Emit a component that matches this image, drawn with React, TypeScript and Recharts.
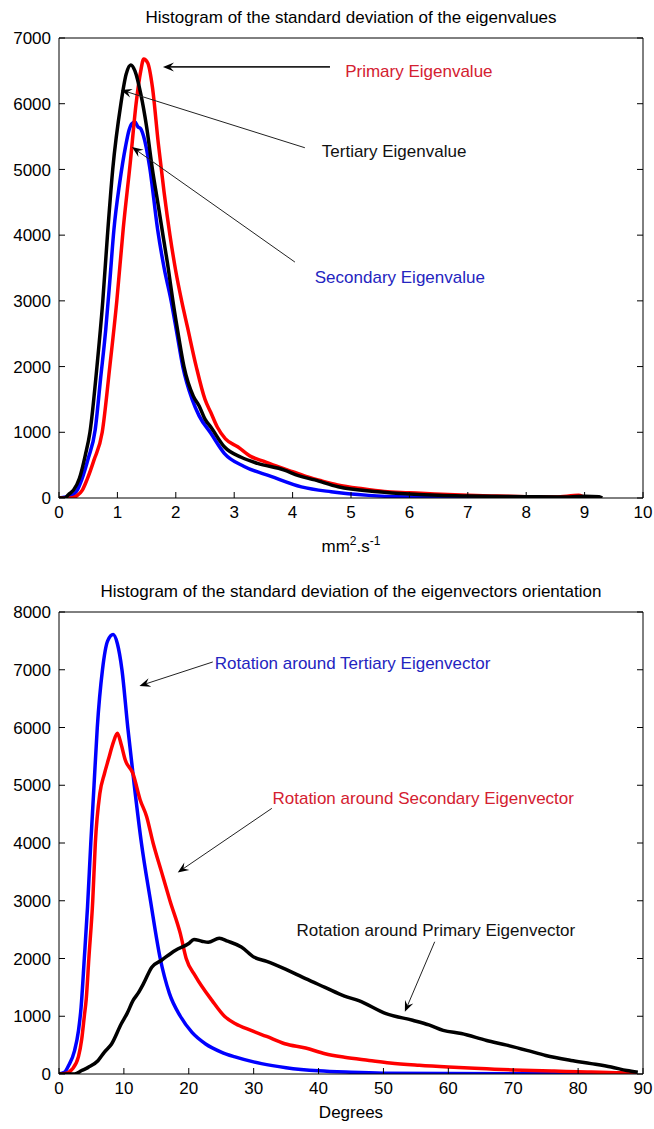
import React from 'react';
import { LineChart, Line, XAxis, YAxis, ReferenceLine, ReferenceDot } from 'recharts';

const FONT = '"Liberation Sans", Arial, Helvetica, sans-serif';

// ---- top chart: std of the eigenvalues (mm^2.s^-1) ----
const eigTicksX = [0, 1, 2, 3, 4, 5, 6, 7, 8, 9, 10];
const eigTicksY = [0, 1000, 2000, 3000, 4000, 5000, 6000, 7000];

const primaryEigX = [0, 0.2, 0.3, 0.4, 0.48, 0.6, 0.74, 0.87, 0.99, 1.1, 1.22, 1.32, 1.4, 1.45, 1.52, 1.6, 1.7, 1.8, 1.9, 2.0, 2.1, 2.2, 2.35, 2.5, 2.6, 2.71, 2.85, 3.06, 3.29, 3.5, 3.8, 4.0, 4.26, 4.5, 4.77, 5.2, 5.57, 6.0, 6.43, 7.0, 7.5, 8.0, 8.5, 8.9, 9.0, 9.1];
const primaryEigY = [0, 0, 30, 120, 280, 580, 1000, 2000, 3000, 4100, 5100, 6000, 6500, 6680, 6620, 6250, 5400, 4650, 4000, 3450, 3000, 2600, 2000, 1500, 1300, 1080, 900, 780, 630, 560, 460, 400, 320, 260, 200, 140, 100, 80, 60, 40, 30, 20, 15, 40, 10, 0];

const tertiaryEigX = [0, 0.1, 0.16, 0.25, 0.35, 0.45, 0.53, 0.65, 0.75, 0.83, 0.92, 1.06, 1.15, 1.23, 1.3, 1.4, 1.5, 1.6, 1.7, 1.78, 1.87, 1.95, 2.05, 2.14, 2.3, 2.4, 2.5, 2.6, 2.83, 3.12, 3.4, 3.86, 4.1, 4.38, 4.78, 5.46, 6.0, 6.5, 7.0, 8.0, 8.6, 9.0, 9.25, 9.3];
const tertiaryEigY = [0, 0, 50, 120, 300, 650, 1000, 2000, 3000, 4000, 5000, 6000, 6450, 6590, 6500, 6150, 5650, 5000, 4450, 4000, 3500, 3000, 2450, 2000, 1550, 1400, 1200, 1080, 780, 620, 527, 425, 340, 275, 170, 95, 60, 40, 30, 20, 15, 25, 20, 0];

const secondaryEigX = [0, 0.2, 0.3, 0.39, 0.5, 0.62, 0.71, 0.8, 0.87, 0.94, 1.04, 1.14, 1.2, 1.25, 1.3, 1.35, 1.4, 1.45, 1.55, 1.69, 1.8, 1.92, 2.02, 2.12, 2.28, 2.4, 2.6, 2.83, 3.17, 3.63, 4.15, 4.66, 5.3, 6.0, 7.0, 8.5, 8.6];
const secondaryEigY = [0, 30, 100, 280, 600, 1040, 1800, 2560, 3300, 4080, 4800, 5350, 5600, 5700, 5720, 5650, 5620, 5500, 5050, 4080, 3500, 3000, 2500, 2000, 1500, 1250, 985, 680, 480, 330, 170, 95, 40, 15, 5, 5, 0];

// ---- bottom chart: std of the eigenvector orientation (degrees) ----
const rotTicksX = [0, 10, 20, 30, 40, 50, 60, 70, 80, 90];
const rotTicksY = [0, 1000, 2000, 3000, 4000, 5000, 6000, 7000, 8000];

const tertiaryRotX = [0, 0.85, 1.5, 2.4, 3.0, 3.4, 3.9, 4.4, 4.9, 5.4, 5.9, 6.7, 7.5, 8.35, 9.0, 9.7, 10.6, 11.6, 12.7, 14.1, 15.6, 17.0, 18.7, 20.5, 22.6, 25, 27, 31.2, 35, 40, 45, 50, 60, 70, 80, 88];
const tertiaryRotY = [0, 30, 150, 405, 750, 1150, 2000, 2900, 4000, 5000, 6000, 7000, 7500, 7610, 7450, 7000, 6000, 5000, 4000, 3000, 2000, 1400, 1000, 720, 520, 380, 300, 180, 110, 55, 30, 15, 8, 4, 2, 0];

const secondaryRotX = [0, 1, 2, 3, 3.5, 3.9, 4.2, 4.6, 5.2, 5.6, 6.3, 7.0, 7.6, 8.4, 9.0, 9.6, 10.2, 11.4, 12.5, 13.5, 14.5, 15.8, 17.1, 18.7, 19.6, 21, 23.6, 25.5, 27.2, 29.6, 32, 34.8, 38, 41, 44, 47.8, 51, 55.5, 60, 65.9, 70, 76.3, 80, 86.6, 89];
const secondaryRotY = [0, 10, 80, 300, 600, 1000, 1300, 2000, 3000, 4000, 4860, 5200, 5440, 5750, 5900, 5700, 5440, 5200, 4750, 4460, 4000, 3500, 3000, 2430, 2000, 1700, 1270, 1000, 870, 755, 650, 524, 450, 350, 290, 235, 190, 150, 120, 90, 70, 50, 40, 20, 0];

const primaryRotX = [0, 2.4, 3.5, 4.5, 6.0, 7.0, 8.1, 9.6, 10.5, 11.4, 12.2, 13, 14.3, 15.8, 17.9, 20, 20.8, 22, 23, 24.7, 26, 28.1, 30.1, 32, 34.8, 38, 41, 44, 46.2, 50.4, 54.5, 57, 59.2, 62, 65.9, 69, 72.1, 75, 78.9, 82, 85.1, 87.5, 89.2];
const primaryRotY = [0, 0, 60, 115, 230, 380, 520, 870, 1050, 1270, 1400, 1560, 1850, 1970, 2140, 2260, 2330, 2300, 2280, 2350, 2300, 2200, 2020, 1950, 1820, 1650, 1500, 1350, 1270, 1045, 930, 850, 755, 700, 580, 500, 410, 320, 235, 180, 120, 60, 30];

// annotations, in data coordinates: text anchor + arrow (from -> tip)
const eigNotes = [
  { text: 'Primary Eigenvalue', color: '#d42030', tx: 4.9, ty: 6500, from: [4.64, 6560], to: [1.78, 6560], w: 1.6 },
  { text: 'Tertiary Eigenvalue', color: '#111', tx: 4.5, ty: 5280, from: [4.21, 5330], to: [1.06, 6210], w: 1 },
  { text: 'Secondary Eigenvalue', color: '#2424c0', tx: 4.38, ty: 3360, from: [4.04, 3590], to: [1.25, 5340], w: 1 },
];
const rotNotes = [
  { text: 'Rotation around Tertiary Eigenvector', color: '#2424c0', tx: 24.0, ty: 7120, from: [23.7, 7135], to: [12.4, 6720], w: 1 },
  { text: 'Rotation around Secondary Eigenvector', color: '#d42030', tx: 32.9, ty: 4775, from: [32.8, 4600], to: [18.3, 3490], w: 1 },
  { text: 'Rotation around Primary Eigenvector', color: '#111', tx: 36.6, ty: 2485, from: [57.9, 2290], to: [53.3, 1076], w: 1 },
];

const zip = (xs: number[], ys: number[]) => xs.map((x, i) => ({ x, y: ys[i] }));

const FS = 17;
const TICK = 6;

const ArrowShape = (w: number) => (p: any) => {
  const { x1, y1, x2, y2 } = p;
  const a = Math.atan2(y2 - y1, x2 - x1);
  const c = Math.cos(a), s = Math.sin(a);
  const L = 11, W = 4.5, N = 7;
  const bx = x2 - L * c, by = y2 - L * s;
  const nx = x2 - N * c, ny = y2 - N * s;
  const pts = `${x2},${y2} ${bx - W * s},${by + W * c} ${nx},${ny} ${bx + W * s},${by - W * c}`;
  return (
    <g>
      <line x1={x1} y1={y1} x2={nx} y2={ny} stroke="#222" strokeWidth={w} />
      <polygon points={pts} fill="#000" />
    </g>
  );
};

const NoteText = (text: string, color: string) => (p: any) => (
  <text x={p.cx} y={p.cy} dy="0.35em" fill={color} fontSize={FS} fontFamily={FONT}>
    {text}
  </text>
);

// MATLAB-style ticks pointing into the plot box
const BOTTOM_M = 8;
const LEFT_M = 8;
const EDGE_M = 2;

const BottomTick = (p: any) => (
  <g>
    <line x1={p.x} x2={p.x} y1={p.y - BOTTOM_M} y2={p.y - BOTTOM_M - TICK} stroke="#000" />
    <text x={p.x} y={p.y} dy="0.72em" textAnchor="middle" fill="#000" fontSize={FS} fontFamily={FONT}>
      {p.payload.value}
    </text>
  </g>
);
const LeftTick = (p: any) => (
  <g>
    <line x1={p.x + LEFT_M} x2={p.x + LEFT_M + TICK} y1={p.y} y2={p.y} stroke="#000" />
    <text x={p.x} y={p.y} dy="0.36em" textAnchor="end" fill="#000" fontSize={FS} fontFamily={FONT}>
      {p.payload.value}
    </text>
  </g>
);
const TopTick = (p: any) => (
  <line x1={p.x} x2={p.x} y1={p.y + EDGE_M} y2={p.y + EDGE_M + TICK} stroke="#000" />
);
const RightTick = (p: any) => (
  <line x1={p.x - EDGE_M} x2={p.x - EDGE_M - TICK} y1={p.y} y2={p.y} stroke="#000" />
);

function Panel(props: {
  height: number; top: number; xAxisH: number; xMax: number; yMax: number;
  ticksX: number[]; ticksY: number[]; series: { data: any[]; color: string }[]; notes: any[];
}) {
  const { height, top, xAxisH, xMax, yMax, ticksX, ticksY, series, notes } = props;
  return (
    <LineChart width={654} height={height} margin={{ top: top - 1, right: 10, left: 0, bottom: 0 }}>
      <XAxis dataKey="x" type="number" domain={[0, xMax]} ticks={ticksX} interval={0} allowDataOverflow
        height={xAxisH} tickSize={0} tickLine={false} tickMargin={BOTTOM_M} stroke="#000" tick={BottomTick} />
      <XAxis xAxisId="t" orientation="top" type="number" domain={[0, xMax]} ticks={ticksX} interval={0}
        allowDataOverflow height={1} tickSize={0} tickLine={false} tickMargin={EDGE_M} stroke="#000" tick={TopTick} />
      <YAxis type="number" domain={[0, yMax]} ticks={ticksY} interval={0} allowDataOverflow width={59}
        tickSize={0} tickLine={false} tickMargin={LEFT_M} stroke="#000" tick={LeftTick} />
      <YAxis yAxisId="r" orientation="right" type="number" domain={[0, yMax]} ticks={ticksY} interval={0}
        allowDataOverflow width={1} tickSize={0} tickLine={false} tickMargin={EDGE_M} stroke="#000" tick={RightTick} />
      {series.map((s, i) => (
        <Line key={i} data={s.data} dataKey="y" type="monotone" stroke={s.color} strokeWidth={3.5}
          dot={false} isAnimationActive={false} />
      ))}
      {notes.map((n, i) => (
        <ReferenceLine key={'a' + i} segment={[{ x: n.from[0], y: n.from[1] }, { x: n.to[0], y: n.to[1] }]}
          ifOverflow="visible" shape={ArrowShape(n.w)} />
      ))}
      {notes.map((n, i) => (
        <ReferenceDot key={'t' + i} x={n.tx} y={n.ty} r={0} ifOverflow="visible" shape={NoteText(n.text, n.color)} />
      ))}
    </LineChart>
  );
}

const txt: React.CSSProperties = {
  position: 'absolute', left: 59, width: 584, textAlign: 'center', fontFamily: FONT,
  fontSize: FS, lineHeight: '20px', color: '#000', whiteSpace: 'nowrap',
};

export default function App() {
  const eigSeries = [
    { data: zip(secondaryEigX, secondaryEigY), color: '#0000ff' },
    { data: zip(primaryEigX, primaryEigY), color: '#ff0000' },
    { data: zip(tertiaryEigX, tertiaryEigY), color: '#000000' },
  ];
  const rotSeries = [
    { data: zip(tertiaryRotX, tertiaryRotY), color: '#0000ff' },
    { data: zip(secondaryRotX, secondaryRotY), color: '#ff0000' },
    { data: zip(primaryRotX, primaryRotY), color: '#000000' },
  ];
  return (
    <div style={{ position: 'absolute', left: 0, top: 0, width: 654, height: 1129, background: '#fff' }}>
      <div style={{ position: 'absolute', left: 0, top: 0 }}>
        <Panel height={560} top={38} xAxisH={62} xMax={10} yMax={7000}
          ticksX={eigTicksX} ticksY={eigTicksY} series={eigSeries} notes={eigNotes} />
      </div>
      <div style={{ position: 'absolute', left: 0, top: 560 }}>
        <Panel height={569} top={52} xAxisH={55} xMax={90} yMax={8000}
          ticksX={rotTicksX} ticksY={rotTicksY} series={rotSeries} notes={rotNotes} />
      </div>
      <div style={{ ...txt, top: 8 }}>Histogram of the standard deviation of the eigenvalues</div>
      <div style={{ ...txt, top: 531 }}>
        mm<sup style={{ fontSize: 12 }}>2</sup>.s<sup style={{ fontSize: 12 }}>-1</sup>
      </div>
      <div style={{ ...txt, top: 582 }}>Histogram of the standard deviation of the eigenvectors orientation</div>
      <div style={{ ...txt, top: 1103 }}>Degrees</div>
    </div>
  );
}
